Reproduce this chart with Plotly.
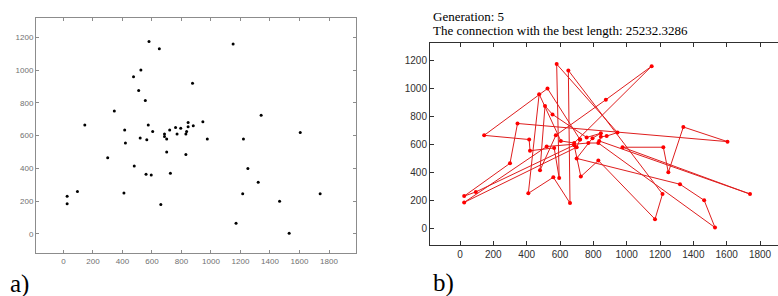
import plotly.graph_objects as go

# Berlin52 city coordinates
city_x = [565, 25, 345, 945, 845, 880, 25, 525, 580, 650, 1605, 1220, 1465, 1530,
          845, 725, 145, 415, 510, 560, 300, 520, 480, 835, 975, 1215, 1320, 1250,
          660, 410, 420, 575, 1150, 700, 685, 685, 770, 795, 720, 760, 475, 95,
          875, 700, 555, 830, 1170, 830, 605, 595, 1340, 1740]
city_y = [575, 185, 750, 685, 655, 660, 230, 1000, 1175, 1130, 620, 580, 200, 5,
          680, 370, 665, 635, 875, 365, 465, 585, 415, 625, 580, 245, 315, 400,
          180, 250, 555, 665, 1160, 580, 595, 610, 610, 645, 635, 650, 960, 260,
          920, 500, 815, 485, 65, 610, 625, 360, 725, 245]

# visiting order of the best tour (1-based city numbers)
tour = [39, 8, 17, 18, 31, 1, 50, 9, 4, 6, 5, 24, 52, 25, 12, 28, 51, 11, 3, 21,
        7, 42, 35, 16, 46, 47, 26, 10, 29, 20, 30, 41, 49, 36, 33, 43, 32, 23, 19, 45,
        40, 15, 38, 44, 27, 13, 14, 48, 37, 22, 2, 34]

x_ticks = [0, 200, 400, 600, 800, 1000, 1200, 1400, 1600, 1800]
y_ticks = [0, 200, 400, 600, 800, 1000, 1200]

generation = 5
best_length = 25232.3286

W, H = 778, 296
def px(x0, x1):
    return [x0 / W, x1 / W]
def py(top, bottom):
    return [(H - bottom) / H, (H - top) / H]

closed = tour + [tour[0]]
tx = [city_x[i - 1] for i in closed]
ty = [city_y[i - 1] for i in closed]

fig = go.Figure()
fig.add_trace(go.Scatter(x=city_x, y=city_y, mode="markers",
                         marker=dict(color="black", size=3),
                         xaxis="x", yaxis="y", showlegend=False, hoverinfo="skip"))
fig.add_trace(go.Scatter(x=tx, y=ty, mode="lines+markers",
                         line=dict(color="rgb(222,30,30)", width=1),
                         marker=dict(color="rgb(255,0,0)", size=4, symbol="circle"),
                         xaxis="x2", yaxis="y2", showlegend=False, hoverinfo="skip"))

axA = dict(showgrid=False, zeroline=False, showline=True, linecolor="#8c8c8c",
           linewidth=1, mirror="ticks", ticks="inside", ticklen=3, tickcolor="#8c8c8c",
           tickfont=dict(family="Liberation Sans Narrow, Arial Narrow, Liberation Sans",
                         size=8, color="#707070"))
axB = dict(showgrid=False, zeroline=False, showline=True, linecolor="#303030",
           linewidth=1, ticks="inside", ticklen=4, tickcolor="#303030",
           tickfont=dict(family="Liberation Sans, Arial", size=10, color="#303030"))

serif = "Liberation Serif, Times New Roman"

fig.update_layout(
    width=W, height=H, margin=dict(l=0, r=0, t=0, b=0),
    paper_bgcolor="white", plot_bgcolor="white",
    xaxis=dict(axA, domain=px(36, 356), range=[-186, 1983], tickvals=x_ticks,
               anchor="y"),
    yaxis=dict(axA, domain=py(18, 253), range=[-116, 1318], tickvals=y_ticks,
               anchor="x"),
    xaxis2=dict(axB, domain=px(430, 778), range=[-180, 1908], tickvals=x_ticks,
                anchor="y2", mirror="ticks"),
    yaxis2=dict(axB, domain=py(43, 245.3), range=[-122, 1326], tickvals=y_ticks,
                anchor="x2", mirror=False),
    annotations=[
        dict(text=f"Generation: {generation}", x=431 / W, y=(H - 16) / H,
             xref="paper", yref="paper", xanchor="left", yanchor="middle",
             showarrow=False, font=dict(family=serif, size=13, color="black")),
        dict(text=f"The connection with the best length: {best_length:.4f}",
             x=431 / W, y=(H - 30.5) / H, xref="paper", yref="paper",
             xanchor="left", yanchor="middle", showarrow=False,
             font=dict(family=serif, size=13, color="black")),
        dict(text="a)", x=8 / W, y=(H - 284) / H, xref="paper", yref="paper",
             xanchor="left", yanchor="middle", showarrow=False,
             font=dict(family=serif, size=25, color="black")),
        dict(text="b)", x=431 / W, y=(H - 283) / H, xref="paper", yref="paper",
             xanchor="left", yanchor="middle", showarrow=False,
             font=dict(family=serif, size=25, color="black")),
    ],
)

fig.write_html("out.html",
               config={"displayModeBar": False, "staticPlot": True},
               post_script="document.body.style.margin='0';"
                           "document.documentElement.style.overflow='hidden';")
